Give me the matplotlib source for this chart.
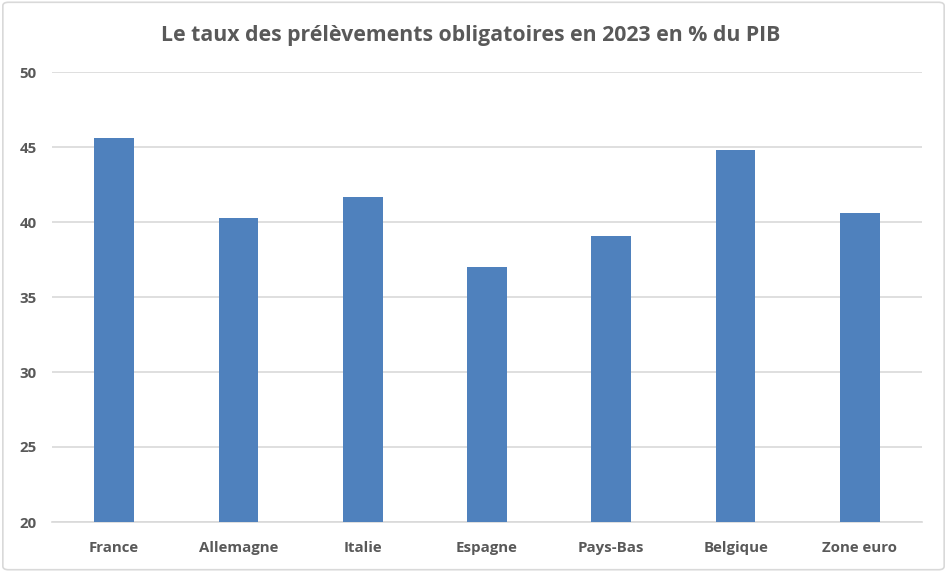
import matplotlib.pyplot as plt
from matplotlib.patches import FancyBboxPatch

pays = ['France', 'Allemagne', 'Italie', 'Espagne', 'Pays-Bas', 'Belgique', 'Zone euro']
taux = [45.6, 40.3, 41.7, 37.0, 39.1, 44.8, 40.6]
yticks = [20, 25, 30, 35, 40, 45, 50]

plt.rcParams['font.family'] = ['Open Sans', 'DejaVu Sans']
gris = '#595959'

fig = plt.figure(figsize=(9.47, 5.72), dpi=100)
ax = fig.add_axes([52/947, 1 - 522/572, 870/947, 450/572])

x = range(len(pays))
ax.bar(x, taux, width=0.32, color='#4F81BD', zorder=3)
ax.set_xlim(-0.5, len(pays) - 0.5)
ax.set_ylim(20, 50)
ax.set_yticks(yticks)
ax.set_xticks(list(x))
ax.set_xticklabels(pays)
ax.grid(axis='y', color='#D9D9D9', linewidth=1.2, zorder=0)
for s in ['top', 'right', 'left']:
    ax.spines[s].set_visible(False)
ax.spines['bottom'].set_color('#D9D9D9')
ax.spines['bottom'].set_linewidth(1.2)
ax.tick_params(axis='both', length=0, labelsize=10.8, labelcolor=gris)
ax.tick_params(axis='x', pad=13.5)
ax.tick_params(axis='y', pad=11)
for lab in ax.get_xticklabels() + ax.get_yticklabels():
    lab.set_fontweight('bold')

fig.text(0.497, 1 - 35/572, 'Le taux des prélèvements obligatoires en 2023 en % du PIB',
         ha='center', va='center', fontsize=15.3, color=gris, fontweight='bold')

cadre = FancyBboxPatch((0.003, 0.004), 0.994, 0.992, boxstyle='round,pad=0,rounding_size=0.006',
                       transform=fig.transFigure, fill=False, edgecolor='#D9D9D9', linewidth=1.2)
fig.patches.append(cadre)

fig.savefig('out.png', dpi=100)
